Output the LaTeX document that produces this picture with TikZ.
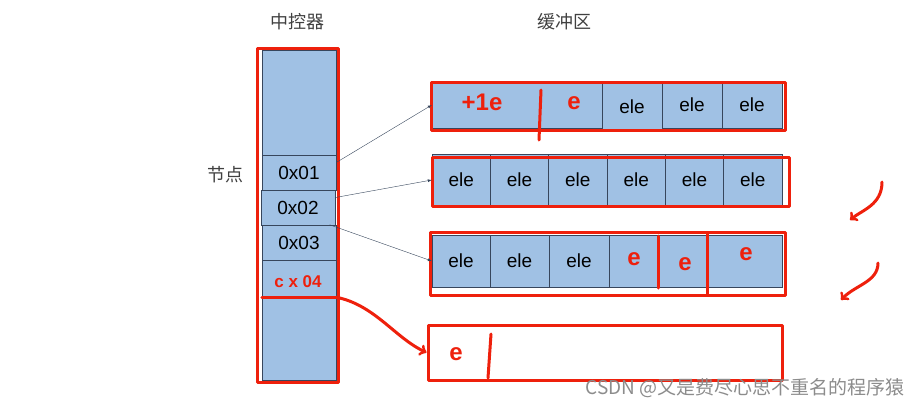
\documentclass[tikz,border=0pt]{standalone}
\usepackage{fontspec}
\setmainfont{Liberation Sans}
\newfontfamily\cjk{Noto Sans CJK SC}
\usepackage{xcolor}
\definecolor{cellblue}{RGB}{160,193,228}
\definecolor{celledge}{RGB}{55,70,92}
\definecolor{penred}{RGB}{238,32,12}

\begin{document}
\begin{tikzpicture}[x=1pt,y=-1pt]
\useasboundingbox (0,0) rectangle (924,410);
%%%%%%%%%%%%%%%%%%%%%%%%%%%%%%%%%%%%%%%%%%%%%%%%%%%%%%%%%%%%%%
%TITLES
\node [font=\cjk\fontsize{18}{18}\selectfont,text=black!75] (ctrltitle) at (297,22) {中控器};
\node [font=\cjk\fontsize{18}{18}\selectfont,text=black!75] (buftitle) at (564,22) {缓冲区};
\node [font=\cjk\fontsize{18}{18}\selectfont,text=black!75] (nodetitle) at (225,175) {节点};

%%%%%%%%%%%%%%%%%%%%%%%%%%%%%%%%%%%%%%%%%%%%%%%%%%%%%%%%%%%%%%
%styles
\tikzstyle{cell}=[draw=celledge,fill=cellblue,inner sep=0pt,font=\fontsize{19}{19}\selectfont]
\tikzstyle{pen}=[draw=penred,line width=3pt,line cap=round,line join=round]
\tikzstyle{pentext}=[text=penred,font=\fontsize{24}{24}\selectfont\bfseries,inner sep=0pt]

%controller
\node[cell,minimum width=74,minimum height=105] (ctop) at (299,102.5) {};
\node[cell,minimum width=74,minimum height=35] (c1) at (299,172.5) {0x01};
\node[cell,minimum width=74,minimum height=35] (c2) at (298,207.5) {0x02};
\node[cell,minimum width=74,minimum height=35] (c3) at (299,242.5) {0x03};
\node[cell,minimum width=74,minimum height=37] (c4) at (299,278.5) {};
\node[cell,minimum width=74,minimum height=83] (cbot) at (299,338.5) {};
\node[pentext,font=\fontsize{17}{17}\selectfont\bfseries] (c4text) at (298,282) {c x 04};

%row 1
\node[cell,minimum width=170,minimum height=46] (b1m) at (517,105) {};
\node[cell,minimum width=60,minimum height=48] (b1d) at (632,107) {ele};
\node[cell,minimum width=60,minimum height=46] (b1e) at (692,105) {ele};
\node[cell,minimum width=60,minimum height=46] (b1f) at (752,105) {ele};
\node[pentext] (b1pa) at (482,102) {+1e};
\node[pentext] (b1pb) at (574,103) {e};

%row 2
\node[cell,minimum width=58.3,minimum height=52] (b2a) at (461.2,180) {ele};
\node[cell,minimum width=58.3,minimum height=52] (b2b) at (519.5,180) {ele};
\node[cell,minimum width=58.3,minimum height=52] (b2c) at (577.8,180) {ele};
\node[cell,minimum width=58.3,minimum height=52] (b2d) at (636.2,180) {ele};
\node[cell,minimum width=58.3,minimum height=52] (b2e) at (694.5,180) {ele};
\node[cell,minimum width=58.3,minimum height=52] (b2f) at (752.8,180) {ele};

%row 3
\node[cell,minimum width=58,minimum height=52] (b3a) at (461,261) {ele};
\node[cell,minimum width=59,minimum height=52] (b3b) at (519.5,261) {ele};
\node[cell,minimum width=60,minimum height=52] (b3c) at (579,261) {ele};
\node[cell,minimum width=50,minimum height=52] (b3d) at (634,261) {};
\node[cell,minimum width=48,minimum height=52] (b3e) at (683,261) {};
\node[cell,minimum width=75,minimum height=52] (b3f) at (744.5,261) {};
\node[pentext] (b3pd) at (634,259) {e};
\node[pentext] (b3pe) at (685,264) {e};
\node[pentext] (b3pf) at (746,254) {e};

%row 4
\node[pen,minimum width=354,minimum height=55,inner sep=0pt] (newbuf) at (605,352.5) {};
\node[pentext] (b4pa) at (456,354) {e};

%%%%%%%%%%%%%%%%%%%%%%%%%%%%%%%%%%%%%%%%%%%%%%%%%%%%%%%%%%%%%%
%RED MARKS
\draw[pen] (257,48) rectangle (338,382);
\draw[pen] (c4.south west) -- (c4.south east);
\draw[pen] (431,82) rectangle (785,130);
\draw[pen] (541,90) -- (539,140);
\draw[pen] (432,157) rectangle (789,206);
\draw[pen] (430,232) rectangle (785,295);
\draw[pen] (658,236) -- (658,288);
\draw[pen] (707,234) -- (707,294);
\draw[pen] (491,334) -- (488,378);

%%%%%%%%%%%%%%%%%%%%%%%%%%%%%%%%%%%%%%%%%%%%%%%%%%%%%%%%%%%%%%
%ARROWS
\draw[->,>=latex,celledge] (c1.15) -- (b1m.west);
\draw[->,>=latex,celledge] (c2.15) -- (b2a.west);
\draw[->,>=latex,celledge] (c3.30) -- (b3a.west);
\draw[pen,->] (c4.south east) .. controls (375,305) and (395,338) .. (newbuf.west);

%hints
\coordinate (hint1s) at (882,182);
\coordinate (hint1e) at (850,220);
\coordinate (hint2s) at (878,263);
\coordinate (hint2e) at (841,300);
\draw[pen,->] (hint1s) .. controls (882,205) and (862,210) .. (hint1e);
\draw[pen,->] (hint2s) .. controls (878,282) and (855,285) .. (hint2e);

%%%%%%%%%%%%%%%%%%%%%%%%%%%%%%%%%%%%%%%%%%%%%%%%%%%%%%%%%%%%%%
%WATERMARK
\node [font=\cjk\fontsize{19}{19}\selectfont,text=black!45] (mark) at (745,388) {CSDN @又是费尽心思不重名的程序猿};
\end{tikzpicture}
\end{document}
